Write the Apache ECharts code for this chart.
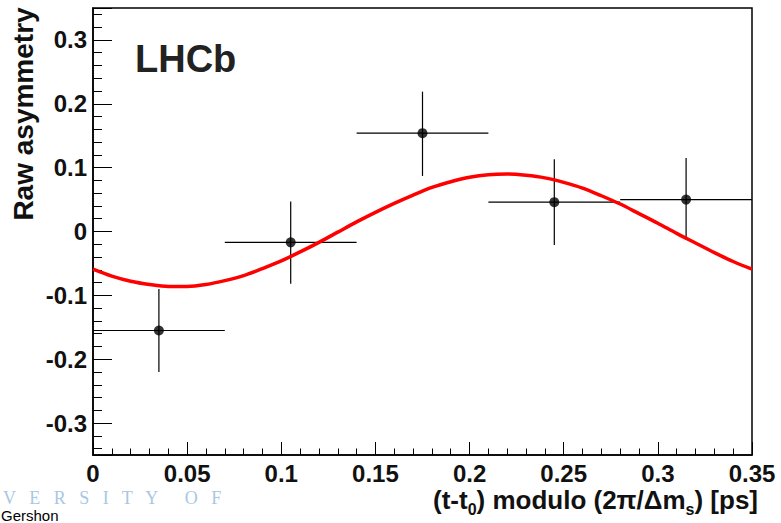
<!DOCTYPE html>
<html>
<head>
<meta charset="utf-8">
<title>Raw asymmetry</title>
<script src="https://cdn.jsdelivr.net/npm/echarts@6/dist/echarts.min.js"></script>
<style>
  html, body { margin: 0; padding: 0; background: #fff; }
  #main { width: 781px; height: 523px; }
</style>
</head>
<body>
<div id="main"></div>
<script>
// data points (bin centre, half width, value, errors)
const binCenters = [0.035, 0.105, 0.175, 0.245, 0.315];
const binHalfWidth = [0.035, 0.035, 0.035, 0.035, 0.035];
const asymmetry = [-0.155, -0.017, 0.154, 0.046, 0.050];
const errUp = [0.065, 0.064, 0.065, 0.067, 0.065];
const errDown = [0.065, 0.065, 0.067, 0.067, 0.063];

// fitted curve
const fitT = [0, 0.01, 0.02, 0.03, 0.04, 0.05, 0.06, 0.07, 0.08, 0.09, 0.10, 0.11,
  0.12, 0.13, 0.14, 0.15, 0.16, 0.17, 0.18, 0.19, 0.20, 0.21, 0.22, 0.23, 0.24,
  0.25, 0.26, 0.27, 0.28, 0.29, 0.30, 0.31, 0.32, 0.33, 0.34, 0.35];
const fitA = [-0.059, -0.070, -0.078, -0.083, -0.086, -0.086, -0.083, -0.077, -0.069,
  -0.058, -0.046, -0.032, -0.017, -0.001, 0.015, 0.030, 0.044, 0.057, 0.069, 0.078,
  0.085, 0.089, 0.090, 0.088, 0.084, 0.077, 0.068, 0.056, 0.043, 0.028, 0.013,
  -0.003, -0.018, -0.033, -0.047, -0.059];

const FONT = '"Liberation Sans", Arial, Helvetica, sans-serif';

const points = binCenters.map((x, i) => [
  x, asymmetry[i], x - binHalfWidth[i], x + binHalfWidth[i],
  asymmetry[i] - errDown[i], asymmetry[i] + errUp[i]
]);
const curve = fitT.map((t, i) => [t, fitA[i]]);

const chart = echarts.init(document.getElementById('main'), null, { renderer: 'svg' });

const option = {
  backgroundColor: '#fff',
  animation: false,
  grid: {
    left: 93, right: 29, top: 8, bottom: 68,
    show: true,
    borderColor: '#000',
    borderWidth: 1.5,
    backgroundColor: 'transparent'
  },
  xAxis: {
    type: 'value',
    min: 0,
    max: 0.35,
    interval: 0.05,
    axisLine: { show: true, onZero: false, lineStyle: { color: '#000', width: 1.5 } },
    axisTick: { show: true, inside: true, length: 13, lineStyle: { color: '#000', width: 1 } },
    minorTick: { show: true, splitNumber: 5, length: 6.5, lineStyle: { color: '#000', width: 1 } },
    splitLine: { show: false },
    axisLabel: {
      color: '#111', fontFamily: FONT, fontWeight: 'bold', fontSize: 24, margin: 6,
      showMinLabel: true, showMaxLabel: true
    }
  },
  yAxis: {
    type: 'value',
    min: -0.35,
    max: 0.35,
    splitNumber: 7,
    axisLine: { show: true, onZero: false, lineStyle: { color: '#000', width: 1.5 } },
    axisTick: { show: true, inside: true, length: 19, lineStyle: { color: '#000', width: 1 } },
    minorTick: { show: true, splitNumber: 5, length: 9, lineStyle: { color: '#000', width: 1 } },
    splitLine: { show: false },
    axisLabel: {
      color: '#111', fontFamily: FONT, fontWeight: 'bold', fontSize: 24, margin: 6,
      showMinLabel: false, showMaxLabel: false
    }
  },
  graphic: [
    {
      type: 'text', x: 23, y: 114, rotation: Math.PI / 2,
      style: {
        text: 'Raw asymmetry', fill: '#111',
        font: 'bold 28px ' + FONT,
        align: 'center', verticalAlign: 'middle'
      }
    },
    {
      type: 'text', x: 135, y: 59,
      style: {
        text: 'LHCb', fill: '#222',
        font: 'bold 38px ' + FONT,
        align: 'left', verticalAlign: 'middle'
      }
    },
    {
      type: 'text', x: 758, y: 500,
      style: {
        text: '(t-t{sub|0}) modulo (2π/Δm{sub|s}) [ps]', fill: '#111',
        font: 'bold 26px ' + FONT,
        align: 'right', verticalAlign: 'middle',
        rich: {
          sub: { font: 'bold 16px ' + FONT, fill: '#111', padding: [18, 0, 0, 0] }
        }
      }
    },
    {
      type: 'text', x: 3, y: 498,
      style: {
        text: 'V   E   R   S   I   T   Y      O   F', fill: '#a9c7e3',
        font: '18px "Liberation Serif", "DejaVu Serif", serif',
        align: 'left', verticalAlign: 'middle'
      }
    },
    {
      type: 'text', x: 1, y: 523,
      style: {
        text: 'Gershon', fill: '#000',
        font: '15px ' + FONT,
        align: 'left', verticalAlign: 'bottom'
      }
    }
  ],
  series: [
    {
      type: 'custom',
      z: 2,
      data: points,
      encode: { x: 0, y: 1 },
      renderItem: function (params, api) {
        const left = api.coord([api.value(2), api.value(1)]);
        const right = api.coord([api.value(3), api.value(1)]);
        const low = api.coord([api.value(0), api.value(4)]);
        const high = api.coord([api.value(0), api.value(5)]);
        return {
          type: 'group',
          children: [
            { type: 'line', shape: { x1: left[0], y1: left[1], x2: right[0], y2: right[1] },
              style: { stroke: '#000', lineWidth: 1.2 } },
            { type: 'line', shape: { x1: low[0], y1: low[1], x2: high[0], y2: high[1] },
              style: { stroke: '#000', lineWidth: 1.2 } }
          ]
        };
      }
    },
    {
      type: 'scatter',
      z: 3,
      symbol: 'circle',
      symbolSize: 10,
      itemStyle: { color: '#000' },
      data: binCenters.map((x, i) => [x, asymmetry[i]])
    },
    {
      type: 'line',
      z: 4,
      smooth: 0.3,
      showSymbol: false,
      lineStyle: { color: '#ff0000', width: 3.5 },
      data: curve
    }
  ]
};

chart.setOption(option);
</script>
</body>
</html>
